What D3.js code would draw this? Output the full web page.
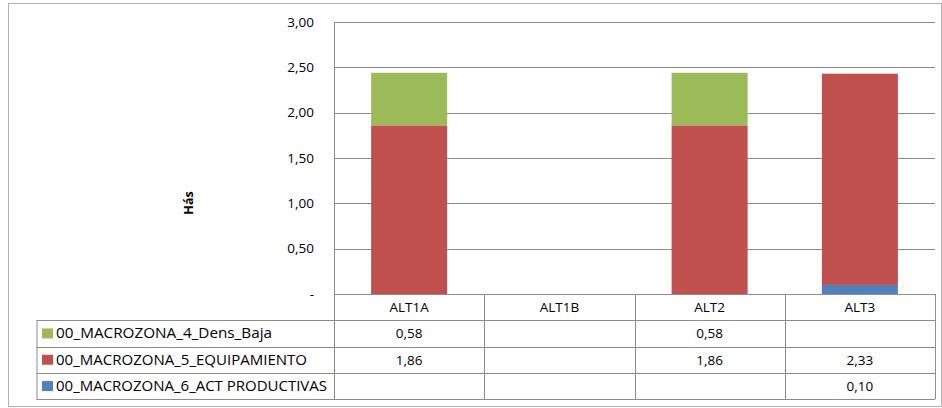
<!DOCTYPE html>
<html>
<head>
<meta charset="utf-8">
<script src="https://cdn.jsdelivr.net/npm/d3@7"></script>
<style>
  body { margin: 0; background: #fff; }
  svg { display: block; font-family: "Open Sans", "Noto Sans", sans-serif; }
</style>
</head>
<body>
<div id="chart"></div>
<script>
const categories = ["ALT1A", "ALT1B", "ALT2", "ALT3"];
const seriesNames = ["00_MACROZONA_4_Dens_Baja", "00_MACROZONA_5_EQUIPAMIENTO", "00_MACROZONA_6_ACT PRODUCTIVAS"];
const denseBaja = [0.58, null, 0.58, null];
const equipamiento = [1.86, null, 1.86, 2.33];
const actProductivas = [null, null, null, 0.10];
const seriesColors = ["#9bbb59", "#c0504d", "#4f81bd"];
const yTicks = [0, 0.5, 1, 1.5, 2, 2.5, 3];

const W = 942, H = 408;
const plot = { left: 334, right: 935, top: 22, bottom: 294 };
const rowH = 26.3;
const legendLeft = 36.5;
const gridColor = "#8c8c8c";
// legend text widths
const legendWidths = [216, 251, 271];

const svg = d3.select("#chart").append("svg")
  .attr("width", W)
  .attr("height", H);

// outer chart border
svg.append("rect")
  .attr("x", 8.5).attr("y", 3.5)
  .attr("width", W - 9).attr("height", 403)
  .attr("fill", "#fff")
  .attr("stroke", "#b3b3b3");

const x = d3.scaleBand().domain(categories).range([plot.left, plot.right]).paddingInner(0).paddingOuter(0);
const y = d3.scaleLinear().domain([0, 3]).range([plot.bottom, plot.top]);

const fmt = v => v === 0 ? "-" : d3.format(".2f")(v).replace(".", ",");

// gridlines
svg.append("g").selectAll("line")
  .data(yTicks.filter(t => t > 0))
  .join("line")
  .attr("x1", plot.left).attr("x2", plot.right)
  .attr("y1", d => Math.round(y(d)) + 0.5).attr("y2", d => Math.round(y(d)) + 0.5)
  .attr("stroke", gridColor);

// y axis labels
const yAxis = d3.axisLeft(y).tickValues(yTicks).tickFormat(fmt).tickSize(0).tickPadding(20);
const ya = svg.append("g").attr("transform", `translate(${plot.left},0)`).call(yAxis);
ya.select(".domain").remove();
ya.selectAll("text").attr("font-size", 13.5).attr("fill", "#000")
  .attr("font-family", "'Open Sans', sans-serif");

svg.append("text")
  .attr("transform", "translate(193,203) rotate(-90)")
  .attr("text-anchor", "middle")
  .attr("font-size", 12.5)
  .attr("font-weight", "bold")
  .text("Hás");

// stacked bars
const rows = categories.map((c, i) => ({
  cat: c,
  s0: actProductivas[i] || 0,
  s1: equipamiento[i] || 0,
  s2: denseBaja[i] || 0
}));
const stack = d3.stack().keys(["s0", "s1", "s2"])(rows);
const stackColors = [seriesColors[2], seriesColors[1], seriesColors[0]];
const barW = 76;

svg.append("g").selectAll("g")
  .data(stack)
  .join("g")
  .attr("fill", (d, i) => stackColors[i])
  .selectAll("rect")
  .data(d => d)
  .join("rect")
  .attr("x", d => x(d.data.cat) + (x.bandwidth() - barW) / 2)
  .attr("width", barW)
  .attr("y", d => y(d[1]))
  .attr("height", d => y(d[0]) - y(d[1]));

// axis line + left border of plot
svg.append("line")
  .attr("x1", plot.left + 0.5).attr("x2", plot.left + 0.5)
  .attr("y1", plot.top).attr("y2", plot.bottom + rowH * 4)
  .attr("stroke", gridColor);

// data table
const tableTop = plot.bottom;
const tableBottom = tableTop + rowH * 4;
const table = svg.append("g");

// horizontal lines
table.append("line")
  .attr("x1", plot.left).attr("x2", plot.right)
  .attr("y1", tableTop + 0.5).attr("y2", tableTop + 0.5)
  .attr("stroke", gridColor);
[1, 2, 3, 4].forEach(r => {
  table.append("line")
    .attr("x1", legendLeft).attr("x2", plot.right)
    .attr("y1", Math.round(tableTop + r * rowH) + 0.5).attr("y2", Math.round(tableTop + r * rowH) + 0.5)
    .attr("stroke", gridColor);
});
// vertical lines
categories.forEach(c => {
  table.append("line")
    .attr("x1", Math.round(x(c) + x.bandwidth()) + 0.5).attr("x2", Math.round(x(c) + x.bandwidth()) + 0.5)
    .attr("y1", tableTop).attr("y2", tableBottom)
    .attr("stroke", gridColor);
});
table.append("line")
  .attr("x1", legendLeft + 0.5).attr("x2", legendLeft + 0.5)
  .attr("y1", tableTop + rowH).attr("y2", tableBottom)
  .attr("stroke", gridColor);

// header labels
table.selectAll("text.cat")
  .data(categories)
  .join("text")
  .attr("class", "cat")
  .attr("x", d => x(d) + x.bandwidth() / 2)
  .attr("y", tableTop + rowH / 2 + 5)
  .attr("text-anchor", "middle")
  .attr("font-size", 13.5)
  .text(d => d);

const seriesValues = [denseBaja, equipamiento, actProductivas];
seriesNames.forEach((name, r) => {
  const cy = tableTop + (r + 1) * rowH + rowH / 2;
  table.append("rect")
    .attr("x", 42).attr("y", cy - 5)
    .attr("width", 11).attr("height", 10)
    .attr("fill", seriesColors[r]);
  table.append("text")
    .attr("x", 56).attr("y", cy + 5)
    .attr("font-size", 14)
    .attr("textLength", legendWidths[r])
    .attr("lengthAdjust", "spacingAndGlyphs")
    .text(name);
  seriesValues[r].forEach((v, i) => {
    if (v == null) return;
    table.append("text")
      .attr("x", x(categories[i]) + x.bandwidth() / 2)
      .attr("y", cy + 5)
      .attr("text-anchor", "middle")
      .attr("font-size", 13.5)
      .text(fmt(v));
  });
});
</script>
</body>
</html>
